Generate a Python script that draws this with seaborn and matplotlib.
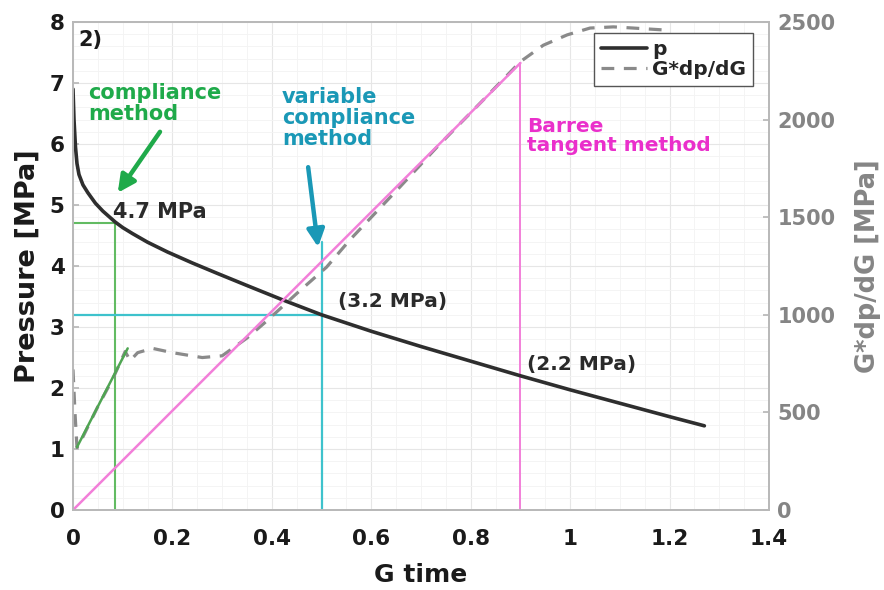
import numpy as np
import pandas as pd
import seaborn as sns
import matplotlib
matplotlib.use("Agg")
import matplotlib.pyplot as plt
from matplotlib.ticker import MultipleLocator
from matplotlib.lines import Line2D

# ---- data ----
g_time_p = [0.0, 0.002, 0.005, 0.008, 0.012, 0.02, 0.03, 0.045, 0.06, 0.085,
            0.1, 0.12, 0.15, 0.19, 0.24, 0.29, 0.35, 0.42, 0.5, 0.6, 0.7,
            0.8, 0.9, 1.0, 1.1, 1.2, 1.27]
pressure = [6.9, 6.4, 5.95, 5.68, 5.5, 5.33, 5.2, 5.03, 4.9, 4.72,
            4.63, 4.53, 4.39, 4.23, 4.05, 3.88, 3.68, 3.45, 3.2, 2.93, 2.68,
            2.44, 2.2, 1.97, 1.75, 1.53, 1.38]

g_time_d = [0.0, 0.004, 0.008, 0.02, 0.05, 0.08, 0.105, 0.115, 0.13, 0.16,
            0.2, 0.26, 0.3, 0.35, 0.39, 0.45, 0.51, 0.557, 0.658, 0.732,
            0.825, 0.9, 0.946, 0.994, 1.04, 1.087, 1.127, 1.19]
gdpdg = [720, 500, 320, 375, 530, 672, 812, 765, 806, 828,
         806, 781, 790, 881, 969, 1109, 1244, 1384, 1656, 1859,
         2100, 2297, 2381, 2434, 2469, 2475, 2469, 2459]

compliance_tangent_g = [0.008, 0.11]
compliance_tangent_v = [322, 828]
barree_tangent_g = [0.0, 0.9]
barree_tangent_v = [0, 2290]

compliance_pick = (0.085, 4.7)
variable_pick = (0.5, 3.2)
barree_pick = (0.9, 2.2)
variable_marker_top = 4.4

x_ticks = [0, 0.2, 0.4, 0.6, 0.8, 1, 1.2, 1.4]
x_tick_labels = ["0", "0.2", "0.4", "0.6", "0.8", "1", "1.2", "1.4"]
p_ticks = list(range(0, 9))
d_ticks = [0, 500, 1000, 1500, 2000, 2500]

# ---- style ----
sns.set_theme(style="white")
plt.rcParams["font.family"] = ["DejaVu Sans"]
plt.rcParams["font.weight"] = "bold"

GREEN_LINE = "#62bb62"
GREEN_TXT = "#1faa4a"
CYAN_LINE = "#3ec2cc"
CYAN_TXT = "#1a98b6"
MAG_LINE = "#f27fd9"
MAG_TXT = "#ea2fcb"
SPINE = "#b8b8b8"
RIGHT_GRAY = "#858585"

fig = plt.figure(figsize=(8.84, 5.9), dpi=100)
ax = fig.add_axes([73 / 884, 80 / 590, 696 / 884, 488 / 590])
ax2 = ax.twinx()

ax.set_xlim(0, 1.4)
ax.set_ylim(0, 8)
ax2.set_ylim(0, 2500)
scale = 2500 / 8.0  # right units per left unit

# grids
ax.xaxis.set_minor_locator(MultipleLocator(0.05))
ax.yaxis.set_minor_locator(MultipleLocator(0.2))
ax.grid(True, which="major", color="#e6e6e6", lw=0.8)
ax.grid(True, which="minor", color="#f3f3f3", lw=0.6)
ax.set_axisbelow(True)

# pick guide lines (left axis)
cx, cp = compliance_pick
ax.plot([cx, cx], [0, cp], color=GREEN_LINE, lw=1.5)
ax.plot([0, cx], [cp, cp], color=GREEN_LINE, lw=1.5)
vx, vp = variable_pick
ax.plot([vx, vx], [0, variable_marker_top], color=CYAN_LINE, lw=1.6)
ax.plot([0, vx], [vp, vp], color=CYAN_LINE, lw=1.6)
bx, bp = barree_pick
ax.plot([bx, bx], [0, barree_tangent_v[1] / scale], color=MAG_LINE, lw=1.4)

# pressure curve
sns.lineplot(x=g_time_p, y=pressure, ax=ax, color="#2e2e2e", lw=2.6,
             sort=False, estimator=None)

# superposition derivative and tangents (right axis)
sns.lineplot(x=g_time_d, y=gdpdg, ax=ax2, color="#8a8a8a", lw=2.3,
             sort=False, estimator=None)
ax2.lines[-1].set_dashes([4, 3])
sns.lineplot(x=barree_tangent_g, y=barree_tangent_v, ax=ax2, color=MAG_LINE,
             lw=1.8, sort=False, estimator=None)
sns.lineplot(x=compliance_tangent_g, y=compliance_tangent_v, ax=ax2,
             color="#4fa552", lw=1.8, sort=False, estimator=None)

# ticks
ax.set_xticks(x_ticks)
ax.set_xticklabels(x_tick_labels)
ax.set_yticks(p_ticks)
ax2.set_yticks(d_ticks)
ax.tick_params(axis="both", which="major", direction="in", length=4,
               color=SPINE, labelsize=15.5, labelcolor="#1a1a1a")
ax.tick_params(axis="x", pad=14)
ax.tick_params(axis="y", pad=6)
ax.tick_params(which="minor", length=0)
ax2.tick_params(axis="y", direction="in", length=4, color=SPINE,
                labelsize=15, labelcolor=RIGHT_GRAY, pad=6)
for t in ax.get_xticklabels() + ax.get_yticklabels() + ax2.get_yticklabels():
    t.set_fontweight("bold")
for a in (ax, ax2):
    for s in a.spines.values():
        s.set_color(SPINE)
        s.set_linewidth(1.2)

ax.set_xlabel("G time", fontsize=18, fontweight="bold", labelpad=10,
              color="#1a1a1a")
ax.set_ylabel("Pressure [MPa]", fontsize=19.5, fontweight="bold",
              labelpad=6.5, color="#1a1a1a")
ax2.set_ylabel("G*dp/dG [MPa]", fontsize=18.5, fontweight="bold",
               labelpad=14, color=RIGHT_GRAY)

# annotations
ax.text(0.01, 7.7, "2)", fontsize=15, fontweight="bold", va="center",
        ha="left", color="#1a1a1a")
ax.text(0.03, 6.66, "compliance\nmethod", fontsize=15, fontweight="bold",
        color=GREEN_TXT, ha="left", va="center", linespacing=1.05)
ax.annotate("", xy=(0.09, 5.2), xytext=(0.175, 6.2),
            arrowprops=dict(arrowstyle="-|>", color=GREEN_TXT, lw=3.2,
                            mutation_scale=26, shrinkA=0, shrinkB=0))
ax.text(0.08, 4.89, f"{cp:.1f} MPa", fontsize=15, fontweight="bold",
        color="#2a2a2a", ha="left", va="center")

ax.text(0.42, 6.43, "variable\ncompliance\nmethod", fontsize=15,
        fontweight="bold", color=CYAN_TXT, ha="left", va="center",
        linespacing=1.05)
ax.annotate("", xy=(0.493, 4.31), xytext=(0.473, 5.62),
            arrowprops=dict(arrowstyle="-|>", color=CYAN_TXT, lw=3.2,
                            mutation_scale=26, shrinkA=0, shrinkB=0))
ax.text(0.533, 3.41, f"({vp:.1f} MPa)", fontsize=14.5, fontweight="bold",
        color="#2a2a2a", ha="left", va="center")

ax.text(0.913, 6.13, "Barree\ntangent method", fontsize=14.5,
        fontweight="bold", color=MAG_TXT, ha="left", va="center",
        linespacing=1.05)
ax.text(0.913, 2.38, f"({bp:.1f} MPa)", fontsize=14.5, fontweight="bold",
        color="#2a2a2a", ha="left", va="center")

# legend
handles = [Line2D([], [], color="#2e2e2e", lw=2.6),
           Line2D([], [], color="#8a8a8a", lw=2.3, dashes=[4, 3])]
leg = ax2.legend(handles, ["p", "G*dp/dG"], loc="upper right",
                 bbox_to_anchor=(0.977, 0.977), frameon=True, fancybox=False,
                 edgecolor="#555555", framealpha=1, borderpad=0.35,
                 labelspacing=0.05, handlelength=2.3, handletextpad=0.25,
                 borderaxespad=0, prop=dict(size=14.5, weight="bold"))
leg.get_frame().set_linewidth(1.0)

fig.savefig("out.png", dpi=100, facecolor="white")
